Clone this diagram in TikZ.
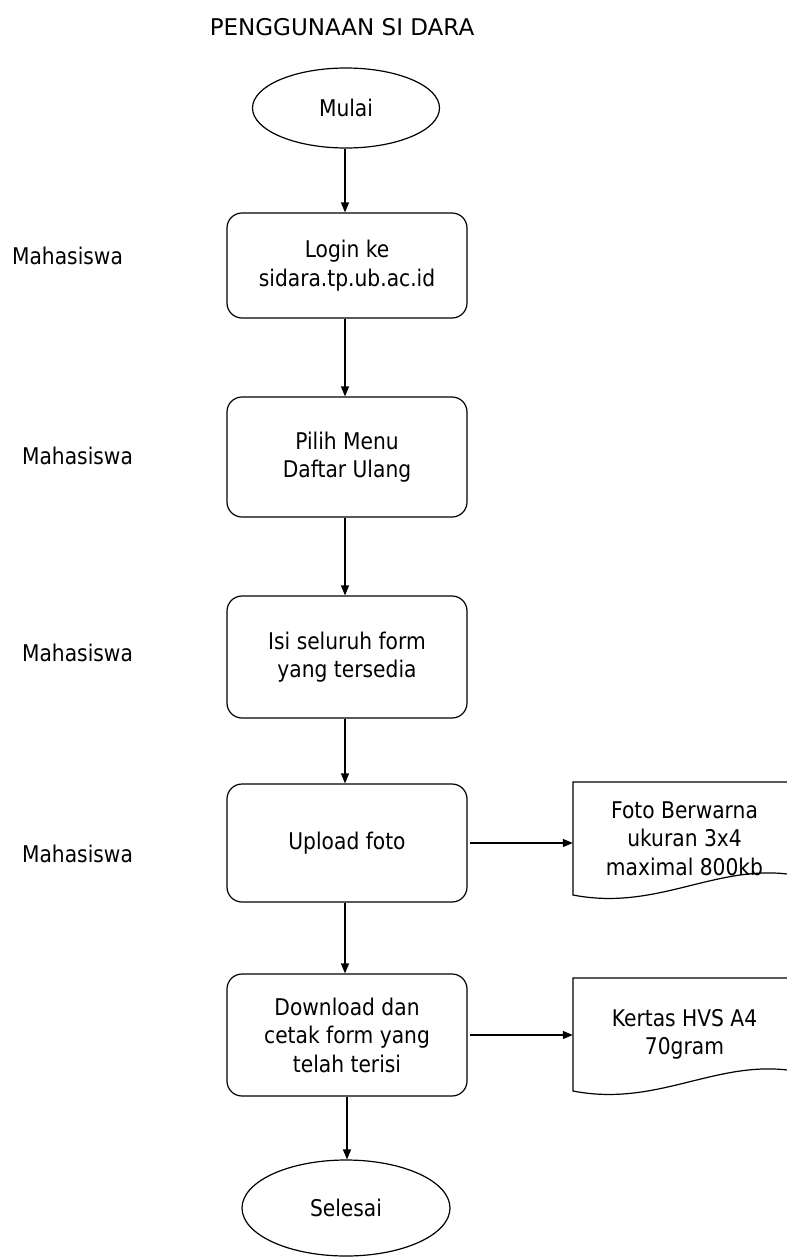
\documentclass[tikz,border=0pt]{standalone}
\usepackage{fontspec}
\setmainfont{DejaVu Sans}[FakeStretch=0.88]
\newfontfamily\titlefont{DejaVu Sans}
\usetikzlibrary{arrows.meta,shapes.geometric}
\begin{document}
\begin{tikzpicture}[x=1pt,y=-1pt,
  every node/.style={font=\fontsize{23}{28.5}\selectfont, align=center, inner sep=0pt},
  proc/.style={draw, line width=1.2pt, rounded corners=15pt, minimum width=240pt},
  term/.style={draw, line width=1.2pt, ellipse},
  arr/.style={line width=1.2pt, -{Triangle[length=10pt,width=8pt]}},
  docline/.style={line width=1.2pt}]
\useasboundingbox (0,0) rectangle (787,1259);
\clip (0,0) rectangle (787,1259);
\fill[white] (0,0) rectangle (787,1259);

\node[font=\titlefont\fontsize{23}{28}\selectfont] (title) at (342,27) {PENGGUNAAN SI DARA};

\node[term, minimum width=187pt, minimum height=80pt] (mulai) at (346,108) {Mulai};
\node[proc, minimum height=105pt] (b1) at (347,265.5) {Login ke\\sidara.tp.ub.ac.id};
\node[proc, minimum height=120pt] (b2) at (347,457) {Pilih Menu\\Daftar Ulang};
\node[proc, minimum height=122pt] (b3) at (347,657) {Isi seluruh form\\yang tersedia};
\node[proc, minimum height=118pt] (b4) at (347,843) {Upload foto};
\node[proc, minimum height=122pt] (b5) at (347,1035) {Download dan\\cetak form yang\\telah terisi};
\node[term, minimum width=208pt, minimum height=96pt] (selesai) at (346,1208) {Selesai};

\node (m1) at (67.5,256) {Mahasiswa};
\node (m2) at (77.5,456) {Mahasiswa};
\node (m3) at (77.5,653) {Mahasiswa};
\node (m4) at (77.5,854) {Mahasiswa};

% documents
\draw[docline] (573,895) -- (573,782) -- (800,782) -- (800,876)
  .. controls (720,860) and (660,912) .. (573,895) -- cycle;
\node[minimum width=223pt, minimum height=113pt] (d1) at (684.5,838.5) {Foto Berwarna\\ukuran 3x4\\maximal 800kb};
\draw[docline] (573,1091) -- (573,978) -- (800,978) -- (800,1072)
  .. controls (720,1056) and (660,1108) .. (573,1091) -- cycle;
\node[minimum width=223pt, minimum height=113pt] (d2) at (684.5,1034.5) {Kertas HVS A4\\70gram};

% connectors
\draw[arr] (mulai.south -| 345,0) -- (b1.north -| 345,0);
\draw[arr] (b1.south -| 345,0) -- (b2.north -| 345,0);
\draw[arr] (b2.south -| 345,0) -- (b3.north -| 345,0);
\draw[arr] (b3.south -| 345,0) -- (b4.north -| 345,0);
\draw[arr] (b4.south -| 345,0) -- (b5.north -| 345,0);
\draw[arr] (b5.south -| 347,0) -- (selesai.north -| 347,0);
\draw[arr] ([xshift=2pt]b4.east) -- (b4.east -| d1.west);
\draw[arr] ([xshift=2pt]b5.east) -- (b5.east -| d2.west);
\end{tikzpicture}
\end{document}
